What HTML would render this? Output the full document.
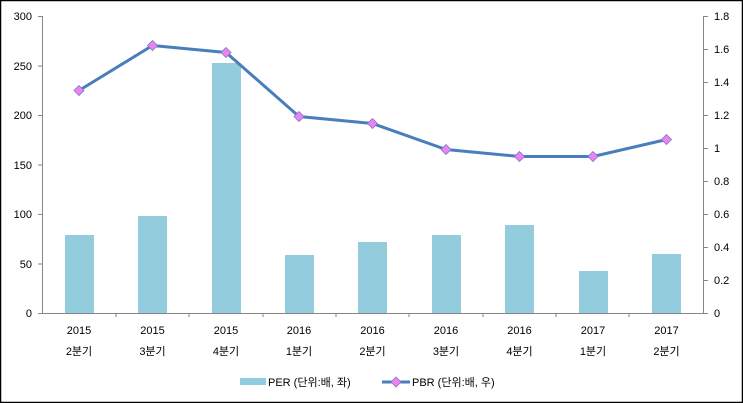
<!DOCTYPE html>
<html><head><meta charset="utf-8"><style>
html,body{margin:0;padding:0;background:#fff}
svg{display:block}
text{font-family:"Liberation Sans","Noto Sans CJK KR",sans-serif;font-size:11px;fill:#000}
</style></head><body>
<svg width="743" height="403" viewBox="0 0 743 403">
<rect x="0.5" y="0.5" width="742" height="402" fill="#fff" stroke="#000" stroke-width="1.5"/>
<g stroke="#868686" stroke-width="1">
<line x1="42.5" y1="16" x2="42.5" y2="313"/>
<line x1="703.5" y1="16" x2="703.5" y2="313"/>
<line x1="42" y1="313.5" x2="704" y2="313.5"/>
<line x1="38" y1="16.5" x2="42" y2="16.5"/><line x1="38" y1="66" x2="42" y2="66"/><line x1="38" y1="115.5" x2="42" y2="115.5"/><line x1="38" y1="165" x2="42" y2="165"/><line x1="38" y1="214.5" x2="42" y2="214.5"/><line x1="38" y1="264" x2="42" y2="264"/><line x1="38" y1="313.5" x2="42" y2="313.5"/>
<line x1="704" y1="16.5" x2="708" y2="16.5"/><line x1="704" y1="49.5" x2="708" y2="49.5"/><line x1="704" y1="82.5" x2="708" y2="82.5"/><line x1="704" y1="115.5" x2="708" y2="115.5"/><line x1="704" y1="148.5" x2="708" y2="148.5"/><line x1="704" y1="181.5" x2="708" y2="181.5"/><line x1="704" y1="214.5" x2="708" y2="214.5"/><line x1="704" y1="247.5" x2="708" y2="247.5"/><line x1="704" y1="280.5" x2="708" y2="280.5"/><line x1="704" y1="313.5" x2="708" y2="313.5"/>
<line x1="116" y1="313" x2="116" y2="317"/><line x1="189" y1="313" x2="189" y2="317"/><line x1="263" y1="313" x2="263" y2="317"/><line x1="336" y1="313" x2="336" y2="317"/><line x1="409" y1="313" x2="409" y2="317"/><line x1="483" y1="313" x2="483" y2="317"/><line x1="556" y1="313" x2="556" y2="317"/><line x1="629" y1="313" x2="629" y2="317"/>
</g>
<g text-anchor="end">
<text x="32" y="20">300</text><text x="32" y="70">250</text><text x="32" y="119">200</text><text x="32" y="169">150</text><text x="32" y="218">100</text><text x="32" y="268">50</text><text x="32" y="317">0</text>
</g>
<g text-anchor="start">
<text x="714" y="20">1.8</text><text x="714" y="53">1.6</text><text x="714" y="86">1.4</text><text x="714" y="119">1.2</text><text x="714" y="152">1</text><text x="714" y="185">0.8</text><text x="714" y="218">0.6</text><text x="714" y="251">0.4</text><text x="714" y="284">0.2</text><text x="714" y="317">0</text>
</g>
<g fill="#93cddd">
<rect x="65" y="235" width="29" height="78"/>
<rect x="138" y="216" width="29" height="97"/>
<rect x="212" y="63" width="29" height="250"/>
<rect x="285" y="255" width="29" height="58"/>
<rect x="358" y="242" width="29" height="71"/>
<rect x="432" y="235" width="29" height="78"/>
<rect x="505" y="225" width="29" height="88"/>
<rect x="579" y="271" width="29" height="42"/>
<rect x="652" y="254" width="29" height="59"/>
</g>
<polyline fill="none" stroke="#4a7ebb" stroke-width="3" stroke-linejoin="round" points="79,90.5 152.5,45.5 226,52.5 299,116.5 372.5,123.5 446,149.5 519.5,156.5 593,156.5 666.5,139.5"/>
<g fill="#ee82ee" stroke="#7a7ad0" stroke-width="0.8">
<path d="M79 85.5l5 5-5 5-5-5z"/><path d="M152.5 40.5l5 5-5 5-5-5z"/><path d="M226 47.5l5 5-5 5-5-5z"/><path d="M299 111.5l5 5-5 5-5-5z"/><path d="M372.5 118.5l5 5-5 5-5-5z"/><path d="M446 144.5l5 5-5 5-5-5z"/><path d="M519.5 151.5l5 5-5 5-5-5z"/><path d="M593 151.5l5 5-5 5-5-5z"/><path d="M666.5 134.5l5 5-5 5-5-5z"/>
</g>
<g text-anchor="middle">
<text x="79" y="334">2015</text><text x="79" y="355">2분기</text>
<text x="152.5" y="334">2015</text><text x="152.5" y="355">3분기</text>
<text x="226" y="334">2015</text><text x="226" y="355">4분기</text>
<text x="299" y="334">2016</text><text x="299" y="355">1분기</text>
<text x="372.5" y="334">2016</text><text x="372.5" y="355">2분기</text>
<text x="446" y="334">2016</text><text x="446" y="355">3분기</text>
<text x="519.5" y="334">2016</text><text x="519.5" y="355">4분기</text>
<text x="593" y="334">2017</text><text x="593" y="355">1분기</text>
<text x="666.5" y="334">2017</text><text x="666.5" y="355">2분기</text>
</g>
<rect x="240" y="378" width="26" height="7" fill="#93cddd"/>
<text x="268" y="386">PER (단위:배, 좌)</text>
<line x1="382" y1="382" x2="410" y2="382" stroke="#4a7ebb" stroke-width="3"/>
<path d="M396 377l5 5-5 5-5-5z" fill="#ee82ee" stroke="#7a7ad0" stroke-width="0.8"/>
<text x="412" y="386">PBR (단위:배, 우)</text>
</svg>
</body></html>
